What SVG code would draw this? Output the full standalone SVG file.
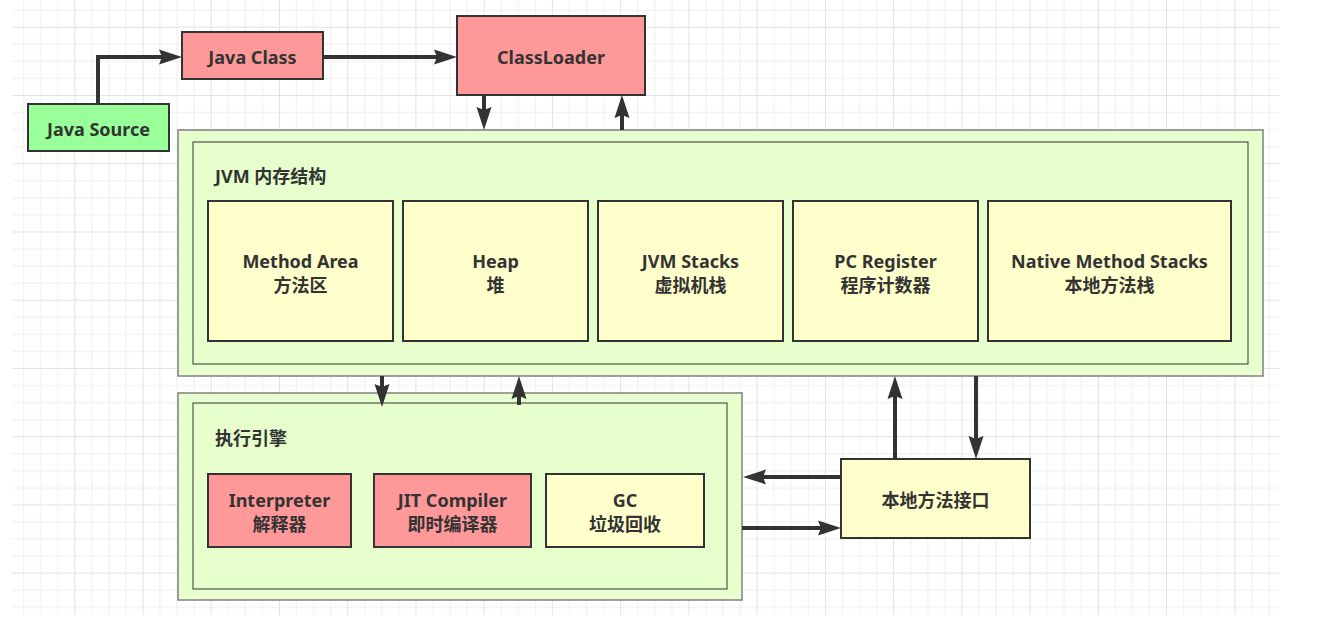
<svg xmlns="http://www.w3.org/2000/svg" width="1323" height="624" viewBox="0 0 1323 624">
<defs>
<pattern id="grid" x="6" y="26.76" width="68.24" height="68.24" patternUnits="userSpaceOnUse">
<path d="M17.56 0V68.24M34.62 0V68.24M51.68 0V68.24M0 17.56H68.24M0 34.62H68.24M0 51.68H68.24" fill="none" stroke="#eeeeee" stroke-width="1"/>
<path d="M0.5 0V68.24M0 0.5H68.24" fill="none" stroke="#e2e2e2" stroke-width="1"/>
</pattern>
<marker id="ah" markerUnits="userSpaceOnUse" markerWidth="24" markerHeight="16" refX="3" refY="7.5" orient="auto" overflow="visible">
<path d="M0,0 L23,7.5 L0,15 L3,7.5 Z" fill="#333333"/>
</marker>
</defs>
<style>
.box{stroke:#333333;stroke-width:2}
.red{fill:#ff9999}
.grn{fill:#99ff99}
.yel{fill:#ffffcc}
.outer{fill:#e6ffcc;stroke:#808080;stroke-width:1.5}
.inner{fill:#e6ffcc;stroke:#333333;stroke-width:1}
text{font-family:"Noto Sans","Noto Sans CJK SC",sans-serif;font-weight:bold;font-size:18px;fill:#333333}
.c{text-anchor:middle}
.edge{fill:none;stroke:#333333;stroke-width:4;marker-end:url(#ah)}
</style>
<rect x="0" y="0" width="1323" height="624" fill="#ffffff"/>
<rect x="12" y="0" width="1267" height="615" fill="url(#grid)"/>

<g id="java-source"><rect class="box grn" x="28" y="104" width="141" height="47"/><text class="c" x="98.5" y="136">Java Source</text></g>
<g id="java-class"><rect class="box red" x="182" y="32" width="141" height="47"/><text class="c" x="252.5" y="64">Java Class</text></g>
<g id="classloader"><rect class="box red" x="457" y="16" width="188" height="79"/><text class="c" x="551" y="64">ClassLoader</text></g>

<g id="jvm-memory">
<rect class="outer" x="178" y="130" width="1085" height="246"/>
<rect class="inner" x="193" y="142" width="1055" height="222"/>
<text x="215" y="183">JVM 内存结构</text>
</g>
<g id="method-area"><rect class="box yel" x="208" y="201" width="185" height="140"/><text class="c" x="300.5" y="268">Method Area</text><text class="c" x="300.5" y="292">方法区</text></g>
<g id="heap"><rect class="box yel" x="403" y="201" width="185" height="140"/><text class="c" x="495.5" y="268">Heap</text><text class="c" x="495.5" y="292">堆</text></g>
<g id="jvm-stacks"><rect class="box yel" x="598" y="201" width="185" height="140"/><text class="c" x="690.5" y="268">JVM Stacks</text><text class="c" x="690.5" y="292">虚拟机栈</text></g>
<g id="pc-register"><rect class="box yel" x="793" y="201" width="185" height="140"/><text class="c" x="885.5" y="268">PC Register</text><text class="c" x="885.5" y="292">程序计数器</text></g>
<g id="native-stacks"><rect class="box yel" x="988" y="201" width="243" height="140"/><text class="c" x="1109.5" y="268">Native Method Stacks</text><text class="c" x="1109.5" y="292">本地方法栈</text></g>

<g id="exec-engine">
<rect class="outer" x="178" y="393" width="564" height="207"/>
<rect class="inner" x="193" y="403" width="534" height="186"/>
<text x="215" y="445">执行引擎</text>
</g>
<g id="interpreter"><rect class="box red" x="208" y="474" width="143" height="73"/><text class="c" x="279.5" y="507">Interpreter</text><text class="c" x="279.5" y="531">解释器</text></g>
<g id="jit"><rect class="box red" x="374" y="474" width="157" height="73"/><text class="c" x="452.5" y="507">JIT Compiler</text><text class="c" x="452.5" y="531">即时编译器</text></g>
<g id="gc"><rect class="box yel" x="546" y="474" width="158" height="73"/><text class="c" x="625" y="507">GC</text><text class="c" x="625" y="531">垃圾回收</text></g>

<g id="native-interface"><rect class="box yel" x="841" y="459" width="189" height="79"/><text class="c" x="935.5" y="507">本地方法接口</text></g>

<g id="connectors">
<path class="edge" d="M98,104 V57 H162"/>
<path class="edge" d="M323,57 H437"/>
<path class="edge" d="M484,95 V110"/>
<path class="edge" d="M622,130 V115"/>
<path class="edge" d="M382,376 V387"/>
<path class="edge" d="M519,405 V396"/>
<path class="edge" d="M895,459 V396"/>
<path class="edge" d="M976,376 V439"/>
<path class="edge" d="M841,477 H763"/>
<path class="edge" d="M742,528 H821"/>
</g>
</svg>
